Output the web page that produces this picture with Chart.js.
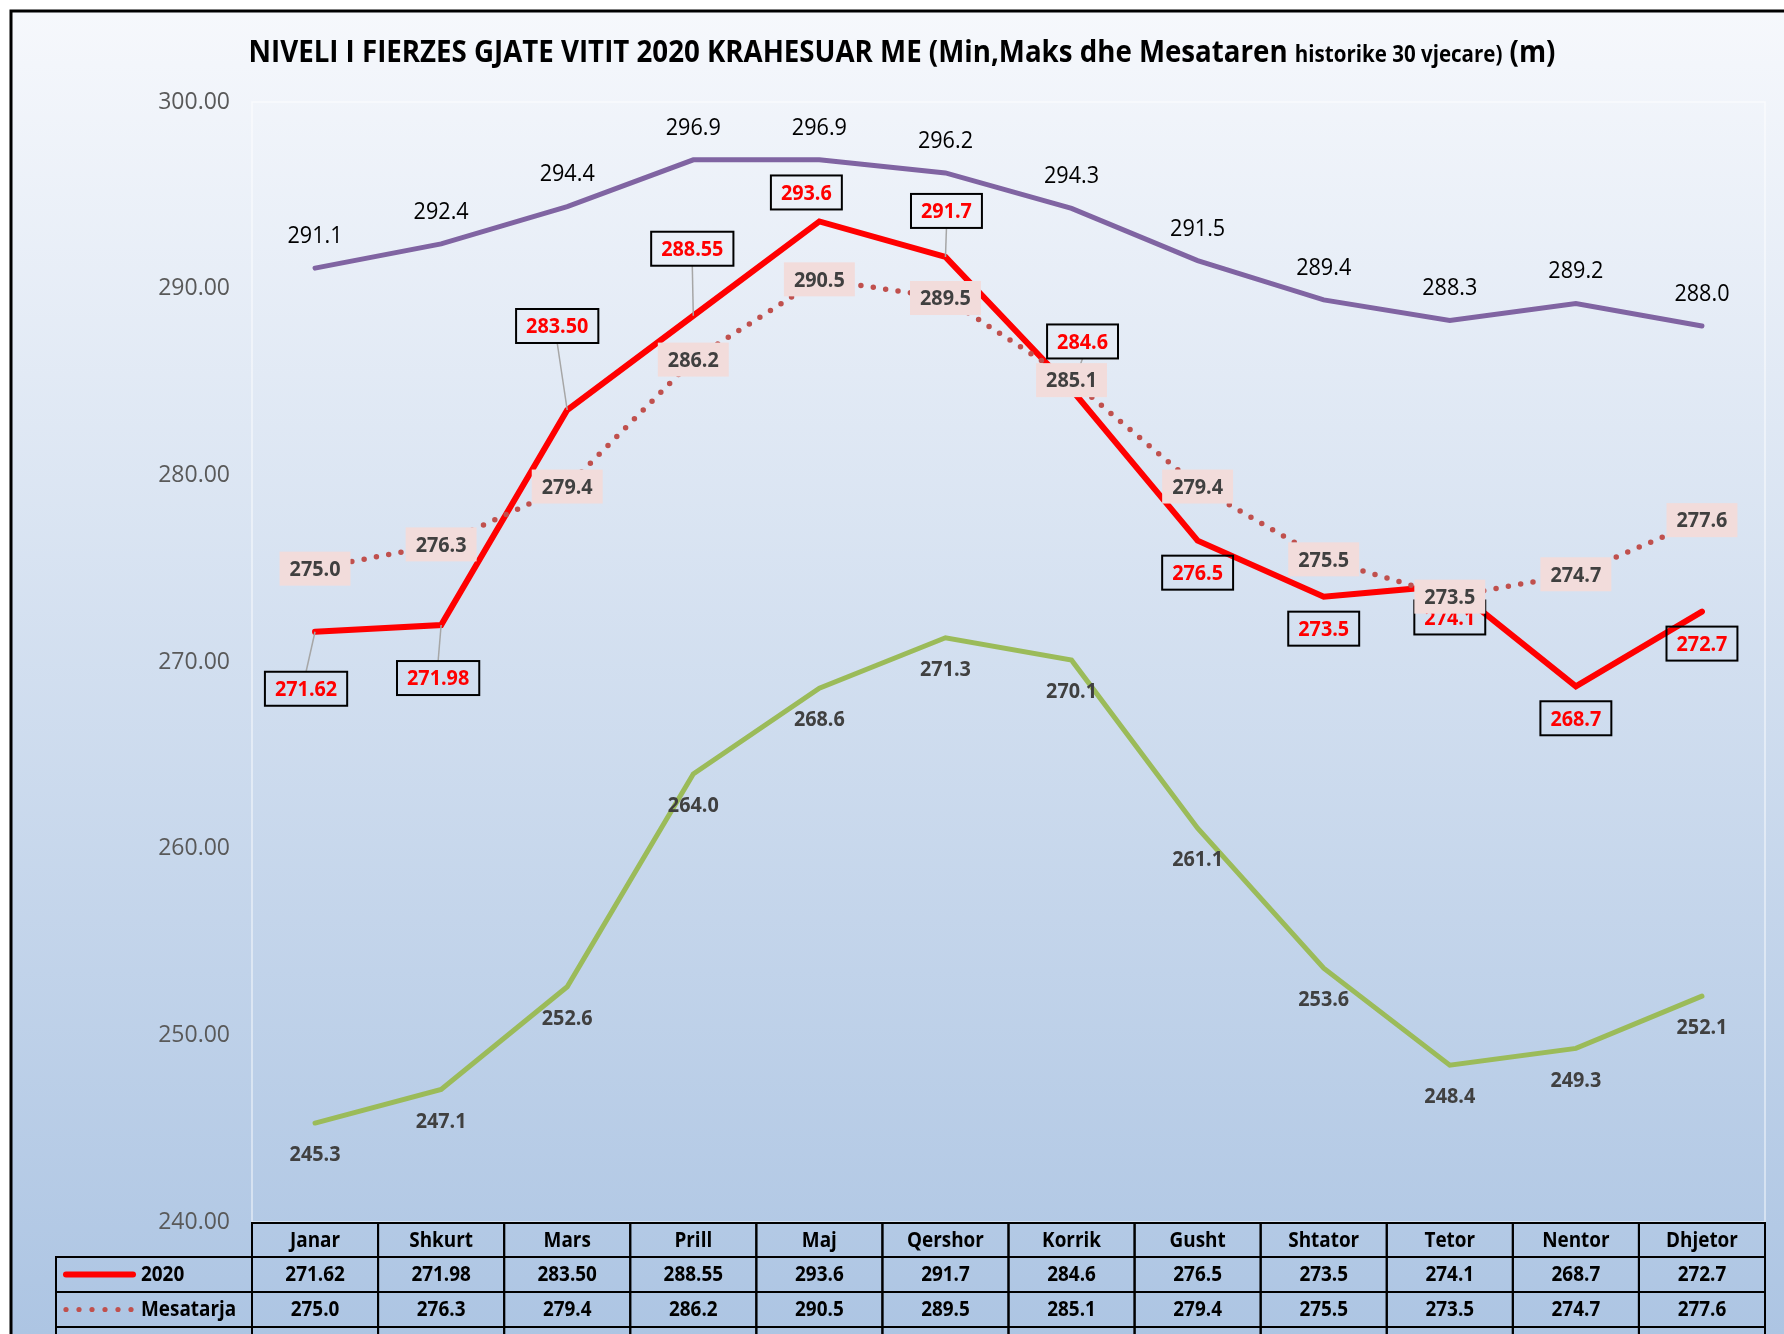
<!DOCTYPE html>
<html lang="sq">
<head>
    <meta charset="UTF-8">
    <title>Niveli i Fierzes 2020</title>
    <script src="https://cdn.jsdelivr.net/npm/chart.js"></script>
    <style>
        html, body { margin: 0; padding: 0; background: #fff; }
        canvas { display: block; }
    </style>
</head>
<body>
    <canvas id="fierza" width="1784" height="1334"></canvas>
    <script>
        // te dhenat
        const muajt = ['Janar', 'Shkurt', 'Mars', 'Prill', 'Maj', 'Qershor', 'Korrik', 'Gusht', 'Shtator', 'Tetor', 'Nentor', 'Dhjetor'];
        const niveli2020 = [271.62, 271.98, 283.50, 288.55, 293.6, 291.7, 284.6, 276.5, 273.5, 274.1, 268.7, 272.7];
        const dhjetore2020 = [2, 2, 2, 2, 1, 1, 1, 1, 1, 1, 1, 1];
        const mesatarja = [275.0, 276.3, 279.4, 286.2, 290.5, 289.5, 285.1, 279.4, 275.5, 273.5, 274.7, 277.6];
        const maks = [291.1, 292.4, 294.4, 296.9, 296.9, 296.2, 294.3, 291.5, 289.4, 288.3, 289.2, 288.0];
        const min = [245.3, 247.1, 252.6, 264.0, 268.6, 271.3, 270.1, 261.1, 253.6, 248.4, 249.3, 252.1];
        const yMin = 240, yMax = 300, yHapi = 10;

        // zhvendosja e etiketave te kuqe (dx, dy) nga pika
        const zhvendosje2020 = [[-9, 57], [-3, 53], [-10, -84], [-1, -67], [-13, -29], [1, -46], [11, -48], [0, 32], [0, 32], [0, 32], [0, 32], [0, 32]];

        const FONT = "'Open Sans', sans-serif";
        const NGUSHTIM = 0.9; // Calibri eshte me e ngushte se Open Sans
        const NGJYRA = { maks: '#8064a2', min: '#9bbb59', mes: '#c0504d', v2020: '#ff0000' };

        function shkruaj(c, tekst, x, y, align, sx) {
            c.save();
            c.translate(x, y);
            c.scale(sx || NGUSHTIM, 1);
            c.textAlign = align;
            c.fillText(tekst, 0, 0);
            c.restore();
        }

        const sfondi = {
            id: 'sfondi',
            beforeDraw(chart) {
                const c = chart.ctx;
                c.save();
                c.fillStyle = '#ffffff';
                c.fillRect(0, 0, chart.width, chart.height);
                const g = c.createLinearGradient(0, 11, 0, chart.height);
                g.addColorStop(0, '#f6f8fc');
                g.addColorStop(1, '#adc5e3');
                c.fillStyle = g;
                c.fillRect(11, 11, chart.width, chart.height);
                c.strokeStyle = '#000';
                c.lineWidth = 3;
                c.beginPath();
                c.moveTo(11, chart.height + 5);
                c.lineTo(11, 11);
                c.lineTo(chart.width + 5, 11);
                c.stroke();
                const a = chart.chartArea;
                c.strokeStyle = 'rgba(255,255,255,0.6)';
                c.lineWidth = 1.5;
                c.strokeRect(a.left, a.top, a.right - a.left, a.bottom - a.top);

                // titulli
                const pjeset = [
                    { t: 'NIVELI I FIERZES GJATE VITIT 2020 KRAHESUAR ME (Min,Maks dhe Mesataren ', s: 31 },
                    { t: 'historike 30 vjecare)', s: 23 },
                    { t: ' (m)', s: 31 }
                ];
                let total = 0;
                pjeset.forEach(p => { c.font = 'bold ' + p.s + 'px ' + FONT; p.w = c.measureText(p.t).width; total += p.w; });
                const sx = 1307 / total;
                let x = 902 - 1307 / 2;
                c.fillStyle = '#000';
                c.textBaseline = 'alphabetic';
                pjeset.forEach(p => {
                    c.font = 'bold ' + p.s + 'px ' + FONT;
                    shkruaj(c, p.t, x, 62, 'left', sx);
                    x += p.w * sx;
                });
                c.restore();
            }
        };

        function kuti(c, tekst, cx, cy, ngjyraTekst, mbushje, kornize, madhesi) {
            c.font = 'bold ' + madhesi + 'px ' + FONT;
            const w = c.measureText(tekst).width * NGUSHTIM + 20, h = 34;
            if (mbushje) { c.fillStyle = mbushje; c.fillRect(cx - w / 2, cy - h / 2, w, h); }
            if (kornize) { c.strokeStyle = '#000'; c.lineWidth = 2; c.strokeRect(cx - w / 2, cy - h / 2, w, h); }
            c.fillStyle = ngjyraTekst;
            c.textBaseline = 'middle';
            shkruaj(c, tekst, cx, cy + 1, 'center');
        }

        const etiketat = {
            id: 'etiketat',
            afterDatasetsDraw(chart) {
                const c = chart.ctx;
                c.save();
                c.textBaseline = 'middle';
                // maks: siper, e zeze
                chart.getDatasetMeta(0).data.forEach((p, i) => {
                    c.font = '24px ' + FONT;
                    c.fillStyle = '#000';
                    shkruaj(c, maks[i].toFixed(1), p.x, p.y - 32, 'center');
                });
                // min: poshte
                chart.getDatasetMeta(1).data.forEach((p, i) => {
                    c.font = 'bold 22px ' + FONT;
                    c.fillStyle = '#404040';
                    shkruaj(c, min[i].toFixed(1), p.x, p.y + 32, 'center');
                });
                // 2020: kuti me kornize
                chart.getDatasetMeta(3).data.forEach((p, i) => {
                    const [dx, dy] = zhvendosje2020[i];
                    const cx = p.x + dx, cy = p.y + dy;
                    if (Math.abs(dy) >= 45) {
                        c.strokeStyle = '#a6a6a6';
                        c.lineWidth = 1.5;
                        c.beginPath();
                        c.moveTo(p.x, p.y);
                        c.lineTo(cx, dy > 0 ? cy - 17 : cy + 17);
                        c.stroke();
                    }
                    kuti(c, niveli2020[i].toFixed(dhjetore2020[i]), cx, cy, '#ff0000', null, true, 22);
                });
                // mesatarja: kuti roze mbi pike
                chart.getDatasetMeta(2).data.forEach((p, i) => {
                    kuti(c, mesatarja[i].toFixed(1), p.x, p.y, '#404040', '#f2dcdb', false, 22);
                });
                c.restore();
            }
        };

        const tabela = {
            id: 'tabela',
            afterDraw(chart) {
                const c = chart.ctx;
                const xs = chart.scales.x;
                const a = chart.chartArea;
                const hap = xs.getPixelForValue(1) - xs.getPixelForValue(0);
                const majtas = 56;
                const rreshtat = [a.bottom + 1, a.bottom + 35, a.bottom + 70, a.bottom + 105, a.bottom + 140];
                const seri = [
                    { emri: '2020', vlera: niveli2020.map((v, i) => v.toFixed(dhjetore2020[i])), lloji: 'vije', ngjyra: NGJYRA.v2020 },
                    { emri: 'Mesatarja', vlera: mesatarja.map(v => v.toFixed(1)), lloji: 'pika', ngjyra: NGJYRA.mes },
                    { emri: 'Maks', vlera: maks.map(v => v.toFixed(1)), lloji: 'vije', ngjyra: NGJYRA.maks }
                ];
                c.save();
                c.strokeStyle = '#000';
                c.lineWidth = 2;
                c.fillStyle = '#000';
                c.textBaseline = 'middle';
                c.font = 'bold 21px ' + FONT;
                // koka
                muajt.forEach((m, i) => {
                    const x0 = xs.getPixelForValue(i) - hap / 2;
                    c.strokeRect(x0, rreshtat[0], hap, rreshtat[1] - rreshtat[0]);
                    shkruaj(c, m, x0 + hap / 2, (rreshtat[0] + rreshtat[1]) / 2 + 1, 'center');
                });
                seri.forEach((s, r) => {
                    const y0 = rreshtat[r + 1], y1 = rreshtat[r + 2], ym = (y0 + y1) / 2 + 1;
                    c.strokeStyle = '#000';
                    c.lineWidth = 2;
                    c.strokeRect(majtas, y0, a.left - majtas, y1 - y0);
                    c.fillStyle = '#000';
                    shkruaj(c, s.emri, 141, ym, 'left');
                    if (s.lloji === 'vije') {
                        c.strokeStyle = s.ngjyra;
                        c.lineWidth = 6;
                        c.lineCap = 'round';
                        c.beginPath();
                        c.moveTo(66, ym - 1);
                        c.lineTo(133, ym - 1);
                        c.stroke();
                        c.lineCap = 'butt';
                    } else {
                        c.fillStyle = s.ngjyra;
                        for (let k = 0; k < 6; k++) {
                            c.beginPath();
                            c.arc(66 + k * 13, ym - 1, 2.6, 0, Math.PI * 2);
                            c.fill();
                        }
                    }
                    s.vlera.forEach((v, i) => {
                        const x0 = xs.getPixelForValue(i) - hap / 2;
                        c.strokeStyle = '#000';
                        c.lineWidth = 2;
                        c.strokeRect(x0, y0, hap, y1 - y0);
                        c.fillStyle = '#000';
                        shkruaj(c, v, x0 + hap / 2, ym, 'center');
                    });
                });
                c.restore();
            }
        };

        const ctx = document.getElementById('fierza').getContext('2d');
        new Chart(ctx, {
            type: 'line',
            data: {
                labels: muajt,
                datasets: [
                    { label: 'Maks', data: maks, borderColor: NGJYRA.maks, borderWidth: 5, pointRadius: 0, borderCapStyle: 'round' },
                    { label: 'Min', data: min, borderColor: NGJYRA.min, borderWidth: 5, pointRadius: 0, borderCapStyle: 'round' },
                    { label: 'Mesatarja', data: mesatarja, borderColor: NGJYRA.mes, borderWidth: 5.5, pointRadius: 0, borderDash: [0, 12.5], borderCapStyle: 'round' },
                    { label: '2020', data: niveli2020, borderColor: NGJYRA.v2020, borderWidth: 6, pointRadius: 0, borderCapStyle: 'round' }
                ]
            },
            options: {
                responsive: false,
                animation: false,
                layout: { padding: { top: 102, bottom: 112, right: 19, left: 0 } },
                plugins: {
                    legend: { display: false },
                    title: { display: false },
                    tooltip: { enabled: false }
                },
                scales: {
                    x: { display: false, offset: true },
                    y: {
                        min: yMin,
                        max: yMax,
                        ticks: {
                            stepSize: yHapi,
                            color: '#595959',
                            font: { size: 23, family: FONT },
                            padding: 22,
                            callback: v => v.toFixed(2)
                        },
                        grid: { display: false, drawTicks: false },
                        border: { display: false },
                        afterFit: s => { s.width = 252; }
                    }
                }
            },
            plugins: [sfondi, etiketat, tabela]
        });
    </script>
</body>
</html>
